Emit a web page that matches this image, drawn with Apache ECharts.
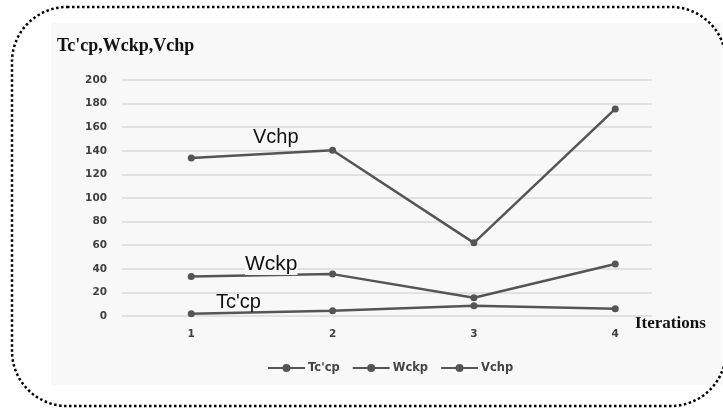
<!DOCTYPE html>
<html>
<head>
<meta charset="utf-8">
<script src="https://cdn.jsdelivr.net/npm/echarts@6/dist/echarts.min.js"></script>
<style>
html,body{margin:0;padding:0;background:#fff;}
#c{width:723px;height:408px;}
</style>
</head>
<body>
<div id="c"></div>
<script>
var iterations = [1, 2, 3, 4];
var tccp = [2, 4.5, 8.7, 6.2];
var wckp = [33.5, 35.5, 15.5, 44];
var vchp = [134, 140.5, 62, 175.5];
var yTicks = [0, 20, 40, 60, 80, 100, 120, 140, 160, 180, 200];
var seriesNames = ["Tc'cp", "Wckp", "Vchp"];

function pairs(vals) {
  return iterations.map(function (x, i) { return [x, vals[i]]; });
}

var chart = echarts.init(document.getElementById('c'), null, {renderer: 'canvas'});
var lineColor = '#555555';
function mkSeries(name, vals) {
  return {
    name: name,
    type: 'line',
    data: pairs(vals),
    symbol: 'circle',
    symbolSize: 7,
    lineStyle: {color: lineColor, width: 2.5},
    itemStyle: {color: lineColor},
    z: 5
  };
}

chart.setOption({
  animation: false,
  backgroundColor: '#ffffff',
  title: {
    text: "Tc'cp,Wckp,Vchp",
    left: 52,
    top: 32,
    textStyle: {fontFamily: 'Liberation Serif', fontWeight: 'bold', fontSize: 18, color: '#111'}
  },
  grid: {left: 122, right: 71, top: 80, bottom: 92, containLabel: false},
  legend: {
    data: seriesNames,
    left: 262,
    top: 357,
    itemWidth: 37,
    itemHeight: 10,
    itemGap: 12,
    textStyle: {fontFamily: 'DejaVu Sans', fontWeight: 'bold', fontSize: 11.5, color: '#444', padding: [0, 0, 0, -2]}
  },
  xAxis: {
    type: 'value',
    min: 0.51,
    max: 4.26,
    name: 'Iterations',
    nameLocation: 'end',
    nameGap: -17,
    nameTextStyle: {fontFamily: 'Liberation Serif', fontWeight: 'bold', fontSize: 17, color: '#111', align: 'left', verticalAlign: 'top', padding: [-1, 0, 0, 0]},
    axisLine: {show: false},
    axisTick: {show: false},
    splitLine: {show: false},
    axisLabel: {
      customValues: iterations,
      margin: 13,
      fontFamily: 'DejaVu Sans', fontWeight: 'bold', fontSize: 10.5, color: '#404040'
    }
  },
  yAxis: {
    type: 'value',
    min: yTicks[0],
    max: yTicks[yTicks.length - 1],
    interval: 20,
    axisLine: {show: false},
    axisTick: {show: false},
    axisLabel: {margin: 15, fontFamily: 'DejaVu Sans', fontWeight: 'bold', fontSize: 10.5, color: '#404040'},
    splitLine: {lineStyle: {color: '#dadada', width: 1.6}}
  },
  graphic: [
    {type: 'rect', z: -10, shape: {x: 51, y: 23, width: 671, height: 362}, style: {fill: '#f8f8f8'}},
    {type: 'rect', z: 100, shape: {x: 12, y: 7, width: 714, height: 399, r: 55}, style: {fill: null, stroke: '#000', lineWidth: 2.5, lineDash: [2.5, 2.5]}},
    {type: 'text', z: 10, left: 253, top: 127, style: {text: 'Vchp', fontFamily: 'Liberation Sans', fontSize: 20, fill: '#111'}},
    {type: 'text', z: 10, left: 245, top: 254, style: {text: 'Wckp', fontFamily: 'Liberation Sans', fontSize: 21, fill: '#111', backgroundColor: '#f8f8f8'}},
    {type: 'text', z: 10, left: 216, top: 292, style: {text: "Tc'cp", fontFamily: 'Liberation Sans', fontSize: 20, fill: '#111'}}
  ],
  series: [mkSeries(seriesNames[0], tccp), mkSeries(seriesNames[1], wckp), mkSeries(seriesNames[2], vchp)]
});
</script>
</body>
</html>
